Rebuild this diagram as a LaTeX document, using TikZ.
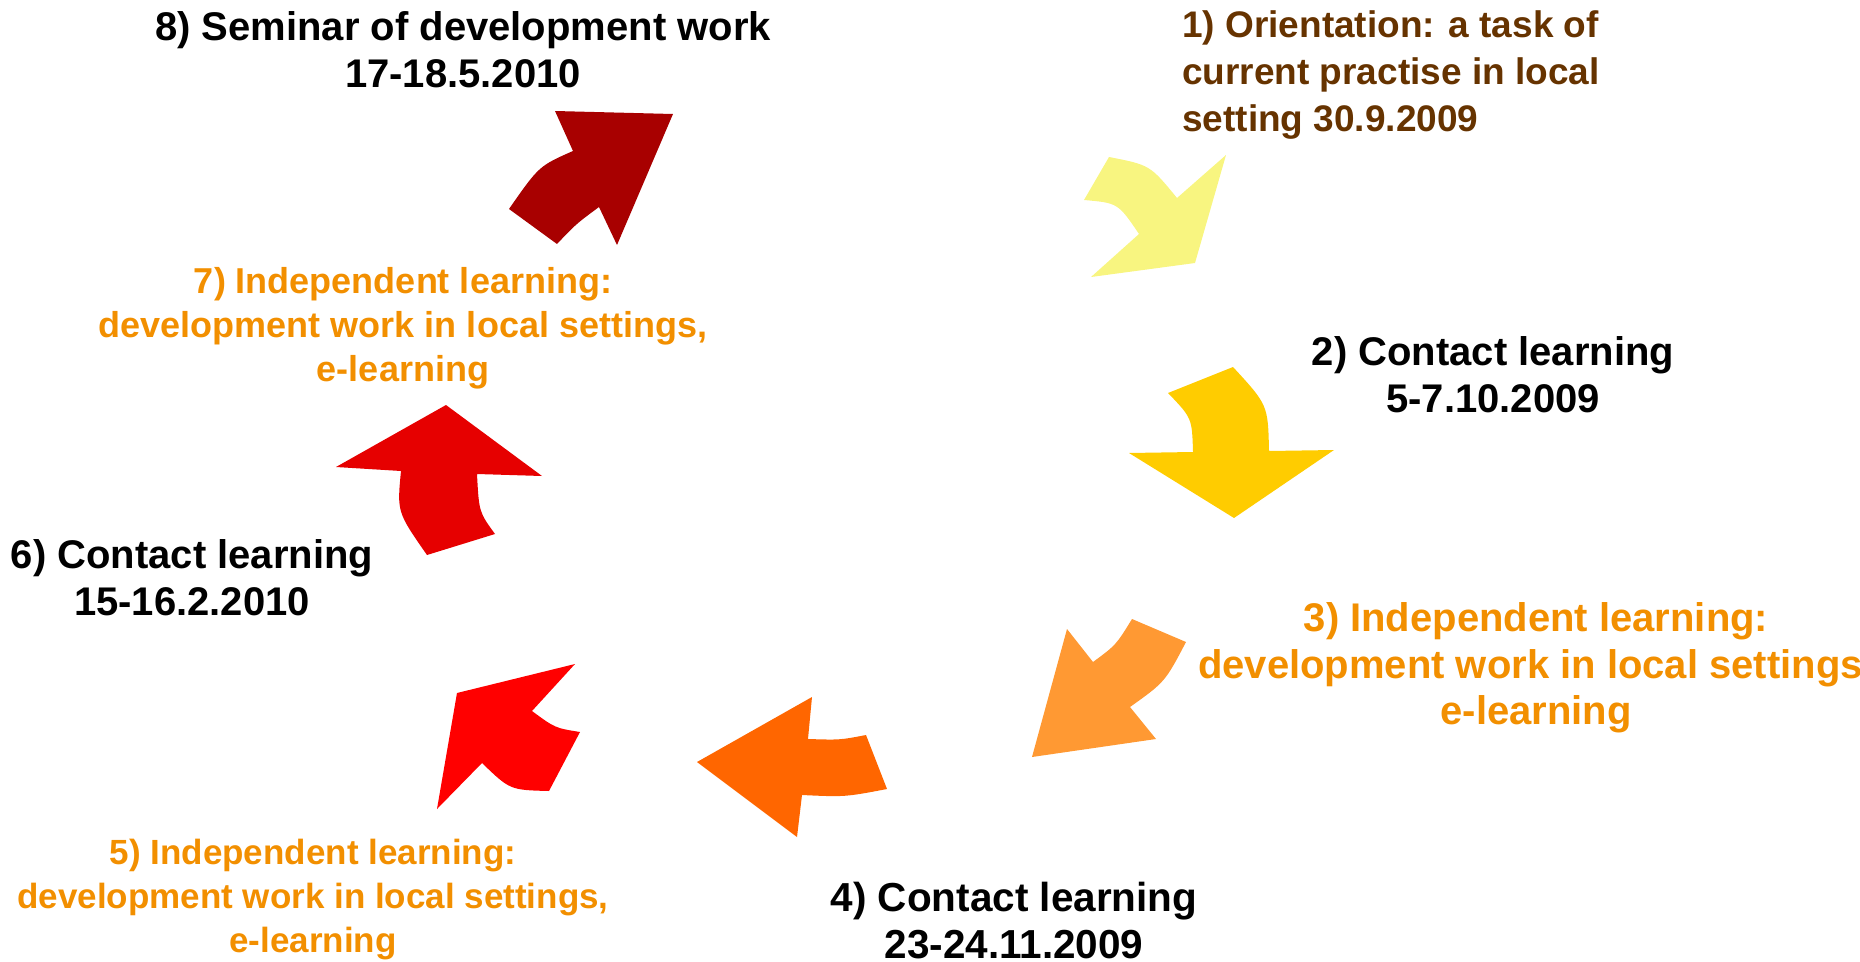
\documentclass[tikz,border=0pt]{standalone}
\usepackage{fontspec}
\setmainfont{Liberation Sans}
\definecolor{cA}{RGB}{248,245,128}
\definecolor{cB}{RGB}{255,204,0}
\definecolor{cC}{RGB}{255,153,51}
\definecolor{cD}{RGB}{255,102,0}
\definecolor{cE}{RGB}{255,0,0}
\definecolor{cF}{RGB}{230,0,0}
\definecolor{cG}{RGB}{168,0,0}
\definecolor{brownT}{RGB}{102,51,0}
\definecolor{orangeT}{RGB}{242,143,0}
\begin{document}
\begin{tikzpicture}[x=1pt,y=-1pt,
  lbl/.style={align=center, inner sep=0pt, font=\bfseries\fontsize{40}{47}\selectfont},
  blk/.style={lbl, text=black},
  org/.style={lbl, text=orangeT}]
\useasboundingbox (0,0) rectangle (1860,961);
\clip (0,0) rectangle (1860,961);
% arrows
\fill[cA] (1109,157) .. controls (1150,165) .. (1177,198) -- (1226,155) -- (1195,263) -- (1091,277) -- (1139,234) .. controls (1118,203) .. (1084,200) -- cycle;
\fill[cB] (1168,393) -- (1233,367) .. controls (1268,405) .. (1269,451) -- (1334,450) -- (1234,518) -- (1129,453) -- (1193,452) .. controls (1192,418) .. (1168,393) -- cycle;
\fill[cC] (1132,619) -- (1186,642) .. controls (1165,682) .. (1130,707) -- (1156,739) -- (1032,757) -- (1067,629) -- (1093,662) .. controls (1116,645) .. (1132,619) -- cycle;
\fill[cD] (866,735) -- (887,789) .. controls (845,797) .. (802,795) -- (797,837) -- (697,762) -- (812,697) -- (808,739) .. controls (840,740) .. (866,735) -- cycle;
\fill[cE] (580,732) -- (549,791) .. controls (510,790) .. (482,763) -- (437,809) -- (457,693) -- (575,664) -- (532,711) .. controls (555,728) .. (580,732) -- cycle;
\fill[cF] (427,555) .. controls (397,512) .. (401,471) -- (336,467) -- (446,405) -- (542,476) -- (477,474) .. controls (479,512) .. (495,534) -- cycle;
\fill[cG] (509,209) .. controls (539,166) .. (573,151) -- (555,111) -- (673,114) -- (617,245) -- (599,207) .. controls (576,224) .. (557,244) -- cycle;
% labels
\node[blk] (l8) at (463,50) {8) Seminar of development work\\17-18.5.2010};
\node[lbl, text=brownT, align=left, anchor=west, font=\bfseries\fontsize{37}{47}\selectfont] (l1) at (1182,75.5) {1) Orientation: a task of\\current practise in local\\setting 30.9.2009};
\node[blk] (l2) at (1493,375) {2) Contact learning\\5-7.10.2009};
\node[org, font=\bfseries\fontsize{40}{46.5}\selectfont] (l3) at (1536,668) {3) Independent learning:\\development work in local settings,\\e-learning};
\node[blk, font=\bfseries\fontsize{40.5}{47}\selectfont] (l4) at (1014,921) {4) Contact learning\\23-24.11.2009};
\node[org, font=\bfseries\fontsize{35}{44}\selectfont] (l5) at (313,900) {5) Independent learning:\\development work in local settings,\\e-learning};
\node[blk] (l6) at (192,578) {6) Contact learning\\15-16.2.2010};
\node[org, font=\bfseries\fontsize{36}{44}\selectfont] (l7) at (403,328) {7) Independent learning:\\development work in local settings,\\e-learning};
\end{tikzpicture}
\end{document}
